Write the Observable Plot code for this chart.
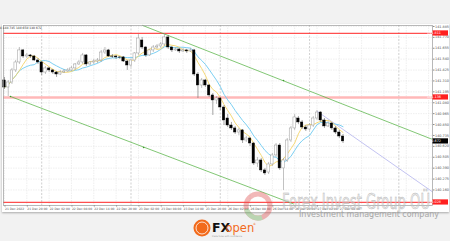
<!DOCTYPE html>
<html><head><meta charset="utf-8">
<script src="https://cdn.jsdelivr.net/npm/d3@7"></script>
<script src="https://cdn.jsdelivr.net/npm/@observablehq/plot@0.6"></script>
<style>
html,body{margin:0;padding:0;}
body{background:#f2f2f2;width:450px;height:241px;overflow:hidden;position:relative;font-family:"DejaVu Sans",sans-serif;}
#panel{position:absolute;left:2px;top:24px;width:447px;height:188px;background:#fff;box-shadow:0 1px 2px rgba(0,0,0,0.3);}
#chart{position:absolute;left:0;top:0;}
#over{position:absolute;left:0;top:0;pointer-events:none;}
</style></head><body>
<div id="panel"></div>
<div id="chart"></div>
<svg id="over" width="450" height="241"></svg>
<script>
// ---- data ----
const symbolText = "EURJPY,H1";
const xLabels = ["21 Dec 2022","21 Dec 20:00","22 Dec 02:00","22 Dec 08:00","22 Dec 14:00","22 Dec 20:00","23 Dec 02:00","23 Dec 08:00","23 Dec 14:00","23 Dec 20:00","26 Dec 02:00","26 Dec 08:00","26 Dec 14:00","26 Dec 20:00","27 Dec 02:00","27 Dec 08:00"];
const xLabelIdx = [0,6,12,18,24,30,36,42,48,54,60,66,72,78,84,90];
const gridIdx = [0,6,12,18,24,30,36,42,48,54,60,66,72,78,84,90,96,102,108,114];
const daySeparators = [10,34,58,82,106];
const priceTicks = [141.885,141.770,141.655,141.540,141.425,141.310,141.195,141.080,140.965,140.850,140.735,140.620,140.505,140.390,140.275,140.160];
const opens = [141.315,141.241,141.294,141.421,141.505,141.632,141.568,141.579,141.568,141.526,141.505,141.399,141.442,141.421,141.399,141.378,141.399,141.410,141.421,141.442,141.484,141.505,141.579,141.484,141.505,141.515,141.526,141.610,141.632,141.568,141.568,141.558,141.558,141.515,141.473,141.526,141.600,141.737,141.663,141.579,141.632,141.663,141.674,141.695,141.769,141.663,141.632,141.642,141.621,141.632,141.621,141.632,141.378,141.262,141.315,141.262,141.157,141.104,141.125,141.030,140.914,140.840,140.809,140.766,140.788,140.682,140.703,140.650,140.439,140.471,140.366,140.344,140.429,140.524,140.629,140.387,140.471,140.682,140.809,140.914,140.872,140.819,140.798,140.840,140.914,140.977,140.893,140.830,140.861,140.809,140.766,140.724];
const highs = [141.347,141.315,141.442,141.526,141.663,141.642,141.600,141.589,141.579,141.547,141.515,141.463,141.452,141.431,141.410,141.421,141.431,141.442,141.463,141.494,141.526,141.600,141.589,141.515,141.537,141.547,141.632,141.663,141.642,141.589,141.579,141.568,141.568,141.526,141.537,141.610,141.800,141.769,141.674,141.642,141.684,141.695,141.716,141.811,141.790,141.674,141.663,141.653,141.653,141.642,141.653,141.642,141.399,141.336,141.326,141.273,141.178,141.146,141.136,141.051,140.956,140.872,140.830,140.809,140.798,140.724,140.714,140.661,140.503,140.492,140.387,140.450,140.545,140.650,140.650,140.492,140.703,140.830,140.956,140.935,140.893,140.840,140.861,140.935,140.999,140.988,140.914,140.882,140.872,140.830,140.788,140.745];
const lows = [141.220,141.146,141.273,141.399,141.484,141.547,141.547,141.547,141.515,141.484,141.368,141.378,141.399,141.378,141.347,141.368,141.389,141.399,141.410,141.421,141.473,141.484,141.463,141.473,141.484,141.494,141.505,141.589,141.558,141.547,141.537,141.537,141.505,141.421,141.452,141.505,141.579,141.642,141.558,141.568,141.610,141.642,141.653,141.674,141.642,141.610,141.621,141.600,141.610,141.600,141.610,141.357,141.125,141.231,141.241,141.136,140.946,141.062,140.999,140.840,140.819,140.788,140.745,140.735,140.650,140.661,140.619,140.418,140.397,140.344,140.313,140.323,140.408,140.503,140.366,140.155,140.450,140.661,140.788,140.851,140.798,140.777,140.788,140.819,140.893,140.872,140.809,140.819,140.788,140.745,140.703,140.650];
const closes = [141.241,141.294,141.421,141.505,141.632,141.568,141.579,141.568,141.526,141.505,141.399,141.442,141.421,141.399,141.378,141.399,141.410,141.421,141.442,141.484,141.505,141.579,141.484,141.505,141.515,141.526,141.610,141.632,141.568,141.566,141.558,141.556,141.515,141.473,141.526,141.600,141.758,141.663,141.579,141.632,141.663,141.674,141.695,141.769,141.663,141.632,141.642,141.621,141.632,141.621,141.632,141.378,141.262,141.315,141.262,141.157,141.104,141.125,141.030,140.893,140.840,140.809,140.766,140.788,140.682,140.703,140.650,140.439,140.471,140.366,140.334,140.429,140.524,140.629,140.387,140.471,140.682,140.809,140.925,140.872,140.819,140.798,140.840,140.914,140.977,140.893,140.830,140.861,140.809,140.766,140.724,140.672];
const levels = [141.811,141.136,140.028];
const upperChannelIdx = [37.1,115.05];
const upperChannelPrice = [141.896,140.693];
const lowerChannelIdx = [1.6,77.7];
const lowerChannelPrice = [141.146,140.012];
const channelDotIdx = [1.6,37.4,75.0];
const channelDotPrice = [141.146,140.608,141.315];
const projectionIdx = [84.1,115.05];
const projectionPrice = [140.988,140.140];

// ---- build ----
const candles = closes.map((c,i)=>({i, open:opens[i], high:highs[i], low:lows[i], close:c, up:c>=opens[i]}));
const upC = candles.filter(d=>d.up), dnC = candles.filter(d=>!d.up);
const seg = (xs,ys)=>xs.map((x,k)=>({x, y:ys[k]}));
const labelOf = i => xLabels[xLabelIdx.indexOf(i)];

const chart = Plot.plot({
  width:450, height:241,
  marginLeft:3, marginRight:18, marginTop:25, marginBottom:36,
  style:{background:"transparent", fontFamily:"DejaVu Sans, sans-serif", color:"#555"},
  x:{domain:[-0.27,115.05]},
  y:{domain:[139.996,141.895]},
  marks:[
    Plot.ruleY(priceTicks,{stroke:"#e4e4e4", strokeWidth:0.6, strokeDasharray:"1.5,1"}),
    Plot.ruleX(gridIdx,{stroke:"#e4e4e4", strokeWidth:0.6, strokeDasharray:"1.5,1"}),
    Plot.ruleX(daySeparators,{stroke:"#b0b0b0", strokeWidth:0.6, strokeDasharray:"2,1.5"}),
    Plot.ruleY([levels[1]],{stroke:"#ffb8b8", strokeWidth:2.4}),
    Plot.ruleY([levels[0],levels[2]],{stroke:"#ff3030", strokeWidth:1.2, strokeOpacity:0.85}),
    Plot.line(seg(upperChannelIdx,upperChannelPrice),{x:"x", y:"y", stroke:"#4caf3a", strokeWidth:0.7}),
    Plot.line(seg(lowerChannelIdx,lowerChannelPrice),{x:"x", y:"y", stroke:"#4caf3a", strokeWidth:0.7}),
    Plot.dot(seg(channelDotIdx,channelDotPrice),{x:"x", y:"y", r:0.8, fill:"#3a9a2a"}),
    Plot.line(seg(projectionIdx,projectionPrice),{x:"x", y:"y", stroke:"#b4b4ee", strokeWidth:0.8}),
    Plot.lineY(candles, Plot.windowY({k:9, anchor:"end"}, {x:"i", y:"close", stroke:"#6ccaf0", strokeWidth:0.9})),
    Plot.lineY(candles, Plot.windowY({k:5, anchor:"end"}, {x:"i", y:"close", stroke:"#f3d468", strokeWidth:0.9})),
    Plot.ruleX(upC,{x:"i", y1:"low", y2:"high", stroke:"#999", strokeWidth:0.6}),
    Plot.ruleX(dnC,{x:"i", y1:"low", y2:"high", stroke:"#666", strokeWidth:0.6}),
    Plot.rect(upC,{x1:d=>d.i-0.33, x2:d=>d.i+0.33, y1:"open", y2:"close", fill:"#fff", stroke:"#999", strokeWidth:0.5}),
    Plot.rect(dnC,{x1:d=>d.i-0.33, x2:d=>d.i+0.33, y1:"open", y2:"close", fill:"#000", stroke:"#000", strokeWidth:0.4}),
    Plot.axisY({anchor:"right", ticks:priceTicks, tickFormat:d3.format(".3f"), tickSize:1.5, tickPadding:1, fontSize:3.4, stroke:"#888"}),
    Plot.axisX({ticks:xLabelIdx, tickFormat:labelOf, textAnchor:"start", tickSize:1.5, tickPadding:1, fontSize:3, dx:0.5, stroke:"#888"}),
    Plot.frame({stroke:"#9a9a9a", strokeWidth:0.7})
  ]
});
document.getElementById("chart").appendChild(chart);

// price label boxes on the axis, placed via the chart's scales
const sx = chart.scale("x"), sy = chart.scale("y");
const svg = d3.select(chart);
const xr = sx.apply(sx.domain[1]);
const boxes = [
  {v:levels[0], fill:"#ff2020"},
  {v:levels[1], fill:"#ff2020"},
  {v:levels[2], fill:"#ff2020"},
  {v:closes[closes.length-1], fill:"#000"}
];
const g = svg.append("g");
boxes.forEach(b=>{
  const y = sy.apply(b.v);
  g.append("rect").attr("x",xr+0.5).attr("y",y-2.6).attr("width",15.5).attr("height",5.2).attr("fill",b.fill);
  g.append("text").attr("x",xr+2).attr("y",y+1.2).attr("font-size",3.4).attr("fill","#fff").text(d3.format(".3f")(b.v));
});
// top-left info line
const last = candles[candles.length-1];
svg.append("text").attr("x",sx.apply(sx.domain[0])+2).attr("y",sy.apply(sy.domain[1])+3.6)
  .attr("font-size",3).attr("fill","#333")
  .text("\u25BC " + symbolText + "  " + [last.open,last.high,last.low,last.close].map(d3.format(".3f")).join(" "));

// overlay: watermark and logos
const over = d3.select("#over");
const ring = over.append("g").attr("opacity",0.4);
ring.append("circle").attr("cx",258).attr("cy",206).attr("r",12).attr("fill","none").attr("stroke","#e05050").attr("stroke-width",5);
ring.append("path").attr("d","M246.4,209 A12,12 0 0 0 262,217.4").attr("fill","none").attr("stroke","#6aaa55").attr("stroke-width",5);
over.append("text").attr("x",282).attr("y",209).attr("font-size",22).attr("font-family","DejaVu Sans Condensed, DejaVu Sans")
  .attr("textLength",148).attr("lengthAdjust","spacingAndGlyphs")
  .attr("fill","rgba(215,215,215,0.45)").attr("stroke","#b4b4b4").attr("stroke-width",0.5).text("Forex Invest Group OÜ");
over.append("text").attr("x",299).attr("y",216.5).attr("font-size",8.5).attr("font-family","DejaVu Sans")
  .attr("textLength",140).attr("lengthAdjust","spacingAndGlyphs").attr("fill","#a6a6a6").text("Investment management company");
// FXopen logo
over.append("circle").attr("cx",202).attr("cy",228).attr("r",8.5).attr("fill","#f26a1b");
over.append("circle").attr("cx",202).attr("cy",228).attr("r",6).attr("fill","none").attr("stroke","#fff").attr("stroke-width",0.8);
over.append("text").attr("x",212).attr("y",232).attr("font-size",12.5).attr("font-weight","bold").attr("font-family","DejaVu Sans").attr("fill","#111").text("FX");
over.append("text").attr("x",225.5).attr("y",231.5).attr("font-size",11.5).attr("font-family","DejaVu Sans").attr("fill","#f26a1b").text("open");
over.append("text").attr("x",253).attr("y",225).attr("font-size",3).attr("fill","#f26a1b").text("®");
over.append("text").attr("x",212).attr("y",236.5).attr("font-size",2.2).attr("fill","#999").text("trade forex with confidence");
</script>
</body></html>
